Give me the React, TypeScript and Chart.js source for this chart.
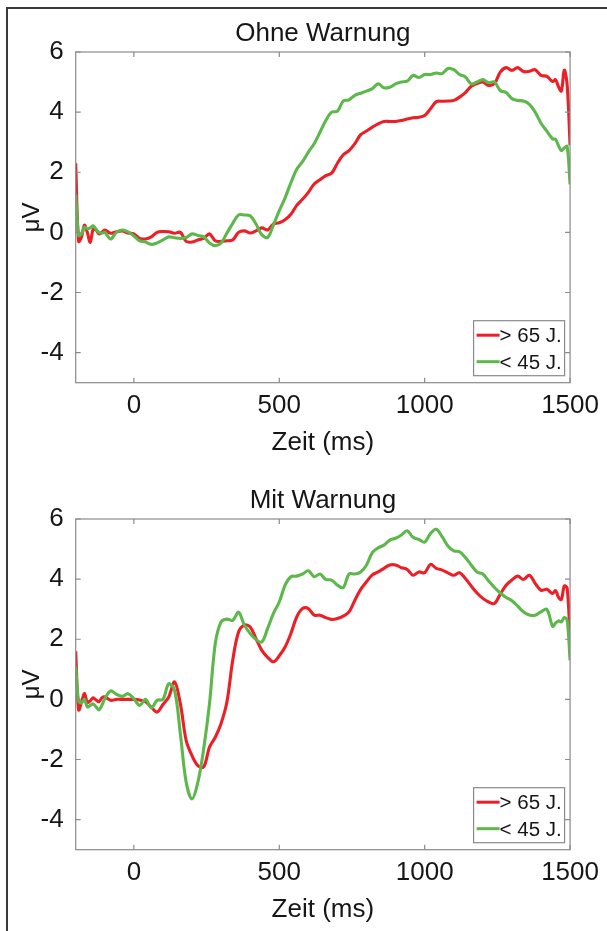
import React, { useEffect, useRef } from 'react';
import { Chart, registerables } from 'chart.js';

Chart.register(...registerables);

const FONT = '"Liberation Sans", Arial, Helvetica, sans-serif';
const TEXT = '#161616';
const AXIS = '#8a8a8a';
const RED = '#ec1f27';
const GREEN = '#5cb84a';

// time points (ms)
const times = [
  -200, -190, -180, -170, -160, -150, -140, -130, -120, -110, -100,
  -80, -60, -40, -20, 0,
  20, 40, 60, 80, 100,
  120, 140, 160, 180, 200,
  220, 240, 260, 280, 300,
  320, 340, 360, 380, 400,
  420, 440, 460, 480, 500,
  520, 540, 560, 580, 600,
  620, 640, 660, 680, 700,
  720, 740, 760, 780, 800,
  820, 840, 860, 880, 900,
  920, 940, 960, 980, 1000,
  1020, 1040, 1060, 1080, 1100,
  1120, 1140, 1160, 1180, 1200,
  1220, 1240, 1260, 1280, 1300,
  1320, 1340, 1360, 1380, 1400,
  1420, 1440,
  1450, 1460, 1470, 1480, 1490, 1500,
];

const xTickValues = [0, 500, 1000, 1500];
const yTickValues = [-4, -2, 0, 2, 4, 6];
const seriesLabels = ['> 65 J.', '< 45 J.'];
const chartTitles = ['Ohne Warnung', 'Mit Warnung'];

// "Ohne Warnung" – older (> 65 J.)
const ohneOld = [
  2.3, -0.3, -0.15, 0.24, 0.0, -0.33, 0.1, 0.08, -0.05, 0.0, 0.08,
  -0.03, 0.02, 0.05, -0.02, -0.05,
  -0.2, -0.22, -0.15, 0.0, 0.03,
  0.02, -0.03, 0.0, -0.3, -0.32,
  -0.25, -0.2, -0.05, -0.28, -0.3,
  -0.28, -0.25, 0.0, 0.05, -0.02,
  0.05, 0.15, 0.08, 0.28, 0.32,
  0.42, 0.6, 0.9, 1.1, 1.33,
  1.61, 1.75, 1.89, 1.97, 2.3,
  2.58, 2.72, 2.95, 3.25, 3.37,
  3.5, 3.61, 3.69, 3.69, 3.69,
  3.72, 3.77, 3.81, 3.83, 3.89,
  4.11, 4.35, 4.36, 4.37, 4.39,
  4.5, 4.65, 4.86, 4.95, 5.0,
  4.89, 4.95, 5.33, 5.48, 5.39,
  5.48, 5.35, 5.36, 5.41, 5.22,
  5.19, 5.02,
  5.08, 4.85, 4.7, 5.4, 4.9, 2.9,
];

// "Ohne Warnung" – younger (< 45 J.)
const ohneYoung = [
  1.26, -0.1, -0.05, 0.17, 0.12, 0.15, 0.22, 0.1, 0.0, -0.03, 0.0,
  -0.22, 0.0, 0.08, 0.02, -0.12,
  -0.28, -0.32, -0.4, -0.35, -0.25,
  -0.15, -0.18, -0.2, -0.17, -0.05,
  -0.1, -0.15, -0.35, -0.44, -0.35,
  -0.02, 0.3, 0.58, 0.58, 0.55,
  0.28, -0.08, -0.17, 0.25, 0.72,
  1.15, 1.65, 2.1, 2.35, 2.67,
  2.95, 3.33, 3.72, 4.0, 4.03,
  4.37, 4.41, 4.56, 4.63, 4.7,
  4.78, 4.94, 4.81, 4.83, 4.94,
  5.0, 5.03, 5.22, 5.15, 5.25,
  5.25, 5.3, 5.28, 5.45, 5.41,
  5.25, 5.17, 4.94, 5.0, 5.08,
  4.98, 5.0, 4.72, 4.65, 4.45,
  4.39, 4.37, 4.26, 4.0, 3.63,
  3.37, 3.11,
  3.1, 2.89, 2.72, 2.81, 2.86, 1.6,
];

// "Mit Warnung" – older (> 65 J.)
const mitOld = [
  1.6, -0.35, -0.1, 0.2, -0.1, -0.05, 0.05, -0.02, -0.08, 0.05, 0.08,
  -0.03, 0.0, 0.0, 0.0, 0.0,
  -0.02, -0.08, -0.26, -0.42, -0.17,
  0.08, 0.58, -0.15, -1.37, -1.87,
  -2.2, -2.25, -1.59, -1.26, -0.8,
  -0.09, 1.3, 2.24, 2.47, 2.41,
  2.02, 1.63, 1.4, 1.25, 1.45,
  1.74, 2.19, 2.74, 3.02, 3.02,
  2.8, 2.8, 2.72, 2.66, 2.69,
  2.77, 2.91, 3.3, 3.66, 3.91,
  4.14, 4.24, 4.36, 4.47, 4.47,
  4.38, 4.32, 4.13, 4.24, 4.21,
  4.49, 4.36, 4.3, 4.21, 4.13,
  4.21, 4.02, 3.77, 3.54, 3.36,
  3.24, 3.19, 3.5, 3.8, 3.97,
  4.1, 3.99, 4.13, 3.86, 3.63,
  3.66, 3.52,
  3.62, 3.4, 3.32, 3.77, 3.7, 2.0,
];

// "Mit Warnung" – younger (< 45 J.)
const mitYoung = [
  1.1, -0.05, -0.12, 0.0, -0.25, -0.2, -0.15, -0.25, -0.35, -0.2, 0.02,
  0.28, 0.17, 0.1, 0.19, 0.02,
  -0.2, 0.0, -0.28, -0.03, 0.0,
  0.52, 0.3, -1.15, -2.76, -3.31,
  -2.76, -1.65, -0.15, 1.86, 2.58,
  2.67, 2.63, 2.9, 2.47, 2.19,
  1.99, 1.91, 2.36, 2.86, 3.24,
  3.8, 4.08, 4.1, 4.17, 4.28,
  4.08, 4.17, 3.99, 3.97, 3.8,
  3.72, 4.17, 4.17, 4.24, 4.47,
  4.88, 5.04, 5.13, 5.3, 5.36,
  5.47, 5.61, 5.39, 5.32, 5.23,
  5.52, 5.66, 5.41, 5.1, 4.94,
  4.91, 4.72, 4.47, 4.24, 4.17,
  3.94, 3.72, 3.54, 3.39, 3.28,
  3.1, 2.91, 2.81, 2.8, 2.91,
  3.0, 2.43,
  2.54, 2.61, 2.58, 2.72, 2.63, 1.3,
];

const CANVAS_W = 607;
const CANVAS_H = 467;

const boxPlugin = {
  id: 'matlabBox',
  afterDatasetsDraw(chart: any) {
    const { ctx, chartArea: a, scales } = chart;
    ctx.save();
    ctx.strokeStyle = AXIS;
    ctx.lineWidth = 1.2;
    ctx.strokeRect(a.left, a.top, a.right - a.left, a.bottom - a.top);
    const tl = 5;
    ctx.beginPath();
    scales.x.ticks.forEach((t: any) => {
      const px = scales.x.getPixelForValue(t.value);
      ctx.moveTo(px, a.bottom);
      ctx.lineTo(px, a.bottom - tl);
      ctx.moveTo(px, a.top);
      ctx.lineTo(px, a.top + tl);
    });
    scales.y.ticks.forEach((t: any) => {
      const py = scales.y.getPixelForValue(t.value);
      ctx.moveTo(a.left, py);
      ctx.lineTo(a.left + tl, py);
      ctx.moveTo(a.right, py);
      ctx.lineTo(a.right - tl, py);
    });
    ctx.stroke();

    // legend box (inside plot, bottom right)
    const bw = 91;
    const bh = 55;
    const bx = a.right - 5.5 - bw;
    const by = a.bottom - 7 - bh;
    ctx.fillStyle = '#ffffff';
    ctx.fillRect(bx, by, bw, bh);
    ctx.strokeStyle = AXIS;
    ctx.lineWidth = 1.2;
    ctx.strokeRect(bx, by, bw, bh);
    chart.data.datasets.forEach((ds: any, i: number) => {
      const y = by + 14.5 + i * 26.5;
      ctx.strokeStyle = ds.borderColor;
      ctx.lineWidth = 3;
      ctx.beginPath();
      ctx.moveTo(bx + 3, y);
      ctx.lineTo(bx + 26, y);
      ctx.stroke();
      ctx.fillStyle = TEXT;
      ctx.font = `20.5px ${FONT}`;
      ctx.textBaseline = 'middle';
      ctx.textAlign = 'left';
      ctx.fillText(ds.label, bx + 26, y + 1.5);
    });
    ctx.restore();
  },
};

function ErpChart({ title, older, younger }: { title: string; older: number[]; younger: number[] }) {
  const ref = useRef<HTMLCanvasElement>(null);
  useEffect(() => {
    if (!ref.current) return;
    const chart = new Chart(ref.current, {
      type: 'line',
      data: {
        datasets: [
          {
            label: seriesLabels[0],
            data: times.map((t, i) => ({ x: t, y: older[i] })),
            borderColor: RED,
            backgroundColor: RED,
            borderWidth: 3.1,
            pointRadius: 0,
            tension: 0.35,
            fill: false,
            order: 1,
          },
          {
            label: seriesLabels[1],
            data: times.map((t, i) => ({ x: t, y: younger[i] })),
            borderColor: GREEN,
            backgroundColor: GREEN,
            borderWidth: 3.1,
            pointRadius: 0,
            tension: 0.35,
            fill: false,
            order: 0,
          },
        ],
      },
      options: {
        responsive: false,
        animation: false,
        events: [],
        layout: { padding: { left: 0, right: 33.7, top: 0, bottom: 0 } },
        plugins: {
          legend: { display: false },
          tooltip: { enabled: false },
          title: {
            display: true,
            text: title,
            fullSize: false,
            color: TEXT,
            font: { family: FONT, size: 26, weight: 'normal' },
            padding: { top: 18, bottom: 2.8 },
          },
        },
        scales: {
          x: {
            type: 'linear',
            min: -200,
            max: 1500,
            afterBuildTicks: (s: any) => {
              s.ticks = xTickValues.map((v) => ({ value: v }));
            },
            afterFit: (s: any) => {
              s.height = 84.3;
            },
            grid: { display: false, drawTicks: false },
            border: { display: false },
            ticks: {
              color: TEXT,
              font: { family: FONT, size: 26 },
              padding: 8,
              maxRotation: 0,
              autoSkip: false,
              callback: (v: any) => String(v),
            },
            title: {
              display: true,
              text: 'Zeit (ms)',
              color: TEXT,
              font: { family: FONT, size: 26 },
              padding: { top: 0, bottom: 9 },
            },
          },
          y: {
            type: 'linear',
            min: -5,
            max: 6,
            afterBuildTicks: (s: any) => {
              s.ticks = yTickValues.map((v) => ({ value: v }));
            },
            afterFit: (s: any) => {
              s.width = 75.7;
            },
            grid: { display: false, drawTicks: false },
            border: { display: false },
            ticks: {
              color: TEXT,
              font: { family: FONT, size: 26 },
              padding: 12,
              autoSkip: false,
              callback: (v: any) => String(v),
            },
            title: {
              display: true,
              text: 'μV',
              color: TEXT,
              font: { family: FONT, size: 24 },
              padding: { top: 18, bottom: 0 },
            },
          },
        },
      },
      plugins: [boxPlugin],
    } as any);
    return () => chart.destroy();
  }, [title, older, younger]);
  return (
    <canvas
      ref={ref}
      width={CANVAS_W}
      height={CANVAS_H}
      style={{ display: 'block', width: CANVAS_W, height: CANVAS_H }}
    />
  );
}

export default function App() {
  return (
    <div
      style={{
        position: 'fixed',
        left: 0,
        top: 0,
        width: 607,
        height: 931,
        background: '#ffffff',
        overflow: 'hidden',
      }}
    >
      <div
        style={{
          position: 'absolute',
          left: 6,
          top: 7,
          width: 640,
          height: 960,
          borderTop: '2px solid #3a3a3a',
          borderLeft: '2px solid #3a3a3a',
        }}
      />
      <div style={{ position: 'absolute', left: 0, top: 0 }}>
        <ErpChart title={chartTitles[0]} older={ohneOld} younger={ohneYoung} />
      </div>
      <div style={{ position: 'absolute', left: 0, top: 467 }}>
        <ErpChart title={chartTitles[1]} older={mitOld} younger={mitYoung} />
      </div>
    </div>
  );
}
